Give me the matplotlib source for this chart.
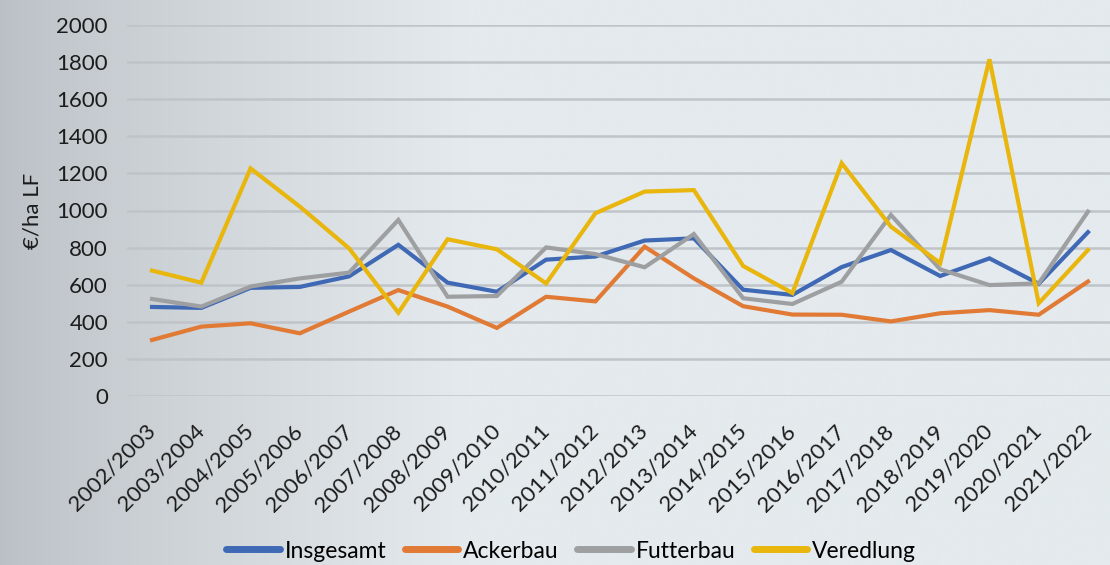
import numpy as np
import matplotlib
matplotlib.use("Agg")
import matplotlib.pyplot as plt

plt.rcParams['font.family'] = ['Lato', 'DejaVu Sans']

years = ["2002/2003", "2003/2004", "2004/2005", "2005/2006", "2006/2007", "2007/2008",
         "2008/2009", "2009/2010", "2010/2011", "2011/2012", "2012/2013", "2013/2014",
         "2014/2015", "2015/2016", "2016/2017", "2017/2018", "2018/2019", "2019/2020",
         "2020/2021", "2021/2022"]

insgesamt = [480, 475, 583, 588, 645, 815, 611, 562, 735, 752, 838, 850,
             573, 545, 695, 787, 647, 742, 605, 883]
ackerbau = [302, 374, 392, 338, 455, 571, 482, 367, 535, 510, 805, 634,
            484, 439, 438, 402, 446, 463, 438, 617]
futterbau = [523, 482, 590, 634, 665, 949, 535, 539, 801, 765, 694, 873,
             527, 496, 616, 976, 683, 598, 607, 994]
veredlung = [676, 611, 1227, 1021, 796, 449, 845, 791, 607, 985, 1102, 1110,
             701, 555, 1255, 913, 716, 1815, 500, 787]

series = [("Insgesamt", insgesamt, "#3f68b5"),
          ("Ackerbau", ackerbau, "#e07a35"),
          ("Futterbau", futterbau, "#9d9fa1"),
          ("Veredlung", veredlung, "#e8b60c")]

yticks = [0, 200, 400, 600, 800, 1000, 1200, 1400, 1600, 1800, 2000]

W, H = 1110, 565
fig = plt.figure(figsize=(W / 100, H / 100), dpi=100)

# background gradient
bg = fig.add_axes([0, 0, 1, 1], zorder=0)
xs = np.linspace(0, 1, 400)
left = np.array([186, 192, 197]) / 255
right = np.array([228, 234, 237]) / 255
t = np.clip(xs / 0.42, 0, 1) ** 0.8
grad = left[None, :] * (1 - t[:, None]) + right[None, :] * t[:, None]
bg.imshow(grad[None, :, :], aspect='auto', extent=[0, 1, 0, 1])
bg.set_axis_off()

ax = fig.add_axes([127.4 / W, 169 / H, 985.2 / W, 371 / H], zorder=1)
ax.set_facecolor('none')
x = np.arange(len(years))
for name, vals, col in series:
    ax.plot(x, vals, color=col, lw=3.0, label=name, solid_joinstyle='miter', zorder=3)

ax.set_xlim(-0.5, len(years) - 0.5)
ax.set_ylim(0, 2000)
ax.set_yticks(yticks)
ax.set_yticklabels([str(v) for v in yticks], fontsize=16, color='#1c1c1c')
ax.set_xticks(x)
ax.set_xticklabels(years, rotation=45, ha='right', va='center', rotation_mode='anchor',
                   fontsize=16, color='#1c1c1c')
ax.tick_params(axis='both', length=0)
ax.tick_params(axis='y', pad=14)
ax.tick_params(axis='x', pad=23)
ax.grid(axis='y', color='#c0c4c8', lw=1.8, zorder=1)
ax.set_axisbelow(True)
for s in ax.spines.values():
    s.set_visible(False)
ax.set_ylabel("€/ha LF", fontsize=16, color='#1c1c1c', labelpad=10)

leg = fig.legend(loc='center', bbox_to_anchor=(571 / W, (H - 551) / H), ncol=4,
                 frameon=False, fontsize=16.5, handlelength=2.35, handletextpad=0.2,
                 columnspacing=0.8)
for line in leg.get_lines():
    line.set_linewidth(5)
    line.set_solid_capstyle('round')

fig.savefig("out.png", dpi=100)
